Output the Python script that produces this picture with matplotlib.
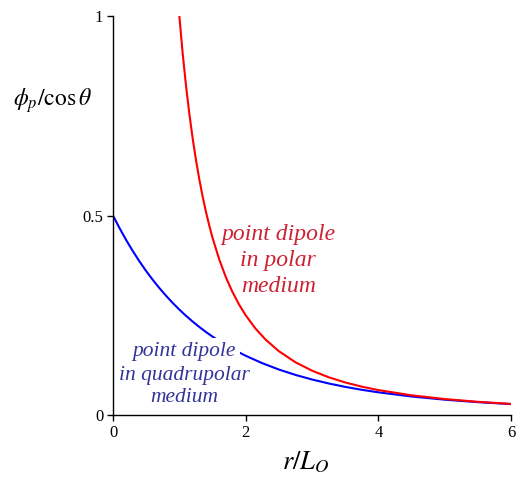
import matplotlib
matplotlib.use("Agg")
import matplotlib.pyplot as plt

plt.rcParams['font.family'] = ['Liberation Serif', 'DejaVu Serif']
plt.rcParams['mathtext.fontset'] = 'stix'

# Blue: point dipole in quadrupolar medium
r_quad = [0.0, 0.1, 0.2, 0.3, 0.4, 0.5, 0.6, 0.7, 0.8, 0.9, 1.0, 1.1, 1.2, 1.3,
          1.4, 1.5, 1.6, 1.7, 1.8, 1.9, 2.0, 2.25, 2.5, 2.75, 3.0,
          3.25, 3.5, 3.75, 4.0, 4.5, 5.0, 5.5, 6.0]
phi_quad = [0.5, 0.4679, 0.4381, 0.4104, 0.3847, 0.3608, 0.3386, 0.3180, 0.2988,
            0.2809, 0.2642, 0.2487, 0.2343, 0.2208, 0.2082, 0.1965, 0.1856,
            0.1753, 0.1658, 0.1569, 0.1485, 0.1299, 0.1140, 0.1005, 0.0890,
            0.0791, 0.0705, 0.0632, 0.0568, 0.0464, 0.0384, 0.0322, 0.0273]

# Red: point dipole in polar medium
r_polar = [1.0, 1.05, 1.1, 1.15, 1.2, 1.25, 1.3, 1.35, 1.4, 1.45, 1.5, 1.6, 1.7,
           1.8, 1.9, 2.0, 2.15, 2.3, 2.5, 2.75, 3.0, 3.25, 3.5, 3.75, 4.0, 4.5,
           5.0, 5.5, 6.0]
phi_polar = [1.0, 0.9070, 0.8264, 0.7561, 0.6944, 0.64, 0.5917, 0.5487, 0.5102,
             0.4756, 0.4444, 0.3906, 0.3460, 0.3086, 0.2770, 0.25, 0.2163,
             0.1890, 0.16, 0.1322, 0.1111, 0.0947, 0.0816, 0.0711, 0.0625,
             0.0494, 0.04, 0.0331, 0.0278]

x_ticks = [0, 2, 4, 6]
y_ticks = [0, 0.5, 1]
y_tick_labels = ['0', '0.5', '1']

fig = plt.figure(figsize=(5.19, 4.83), dpi=100)
ax = fig.add_axes([113/519, 1-415/483, (511-113)/519, (415-16)/483])

ax.plot(r_quad, phi_quad, color='#0000ff', lw=1.5, zorder=2)
ax.plot(r_polar, phi_polar, color='#ff0000', lw=1.5, zorder=2)

ax.set_xlim(0, 6)
ax.set_ylim(0, 1)
ax.set_xticks(x_ticks)
ax.set_xticklabels([str(t) for t in x_ticks])
ax.set_yticks(y_ticks)
ax.set_yticklabels(y_tick_labels)
ax.tick_params(direction='out', length=4, width=1, labelsize=12, pad=3)
for s in ['top', 'right']:
    ax.spines[s].set_visible(False)
for s in ['left', 'bottom']:
    ax.spines[s].set_linewidth(1)
    ax.spines[s].set_color('black')

ax.text(2.49, 0.387, 'point dipole\nin polar\nmedium', color='#cc2233',
        fontsize=17, style='italic', ha='center', va='center', linespacing=1.3,
        zorder=3)
ax.text(1.07, 0.158, 'point dipole', color='#333399',
        fontsize=15.5, style='italic', ha='center', va='center',
        zorder=3, bbox=dict(facecolor='white', edgecolor='none', pad=3))
ax.text(1.07, 0.072, 'in quadrupolar\nmedium', color='#333399',
        fontsize=15.5, style='italic', ha='center', va='center', linespacing=1.2,
        zorder=3)

fig.text(52/519, 1-101/483, r'$\phi_p/\cos\theta$', fontsize=17,
         ha='center', va='center')
fig.text(306/519, 1-462/483, r'$r/L_O$', fontsize=19, ha='center', va='center')

fig.savefig('out.png', dpi=100)
